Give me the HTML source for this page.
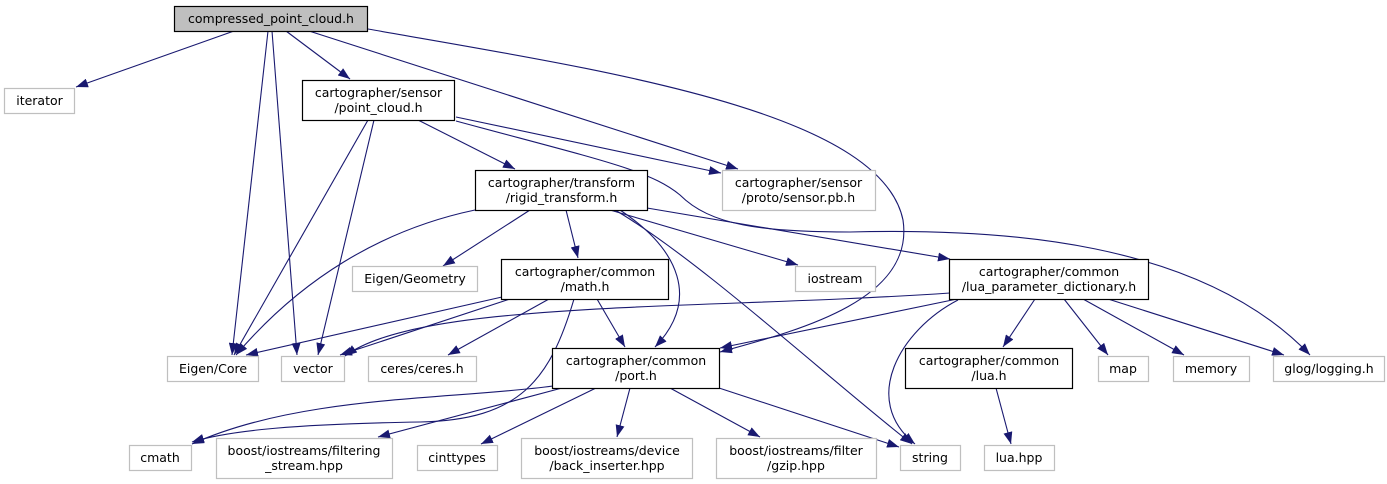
<!DOCTYPE html>
<html><head><meta charset="utf-8"><style>
html,body{margin:0;padding:0;background:#fff;}
svg{display:block;}
text{font-family:"DejaVu Sans","Liberation Sans",sans-serif;font-size:12.5px;fill:#000;}
</style></head><body>
<svg width="1387" height="484" viewBox="0 0 1387 484" xmlns="http://www.w3.org/2000/svg">
<defs><marker id="a" viewBox="0 0 12 9" refX="12" refY="4.5" markerWidth="12" markerHeight="9" markerUnits="userSpaceOnUse" orient="auto"><path d="M0,0 L12,4.5 L0,9 Z" fill="#191970"/></marker></defs>
<g fill="none" stroke="#191970" stroke-width="1.1" marker-end="url(#a)">
<path d="M234,31 L76,87"/>
<path d="M268,31 L232,355"/>
<path d="M272,31 L297,355"/>
<path d="M286,31 L350,79"/>
<path d="M309,31 L738,169"/>
<path d="M368,29 C600,70 880,110 903,220 C915,300 800,330 720,352"/>
<path d="M368,120 L234,355"/>
<path d="M374,120 L318,355"/>
<path d="M418,120 L515,169"/>
<path d="M456,117 L721,173"/>
<path d="M456,121 C600,160 650,170 680,195 C710,225 760,232 850,232 C1000,228 1200,240 1310,355"/>
<path d="M475,210 C380,230 300,280 236,355"/>
<path d="M530,210 L443,266"/>
<path d="M566,210 L578,258"/>
<path d="M620,210 C680,250 700,300 655,347"/>
<path d="M615,210 C700,260 830,380 912,444"/>
<path d="M610,210 L798,265"/>
<path d="M647,208 L950,259"/>
<path d="M502,297 L246,355"/>
<path d="M510,299 L340,355"/>
<path d="M549,299 L448,355"/>
<path d="M574,299 C550,380 520,420 420,422 C300,424 230,430 192,442"/>
<path d="M597,299 L625,347"/>
<path d="M950,293 C700,310 420,300 345,356"/>
<path d="M962,298 L720,348"/>
<path d="M958,300 C900,330 860,400 915,444"/>
<path d="M1035,299 L1003,347"/>
<path d="M1064,299 L1108,355"/>
<path d="M1083,299 L1184,355"/>
<path d="M1108,299 L1284,355"/>
<path d="M996,388 L1011,444"/>
<path d="M553,386 C450,400 300,395 192,444"/>
<path d="M562,388 L378,437"/>
<path d="M596,388 L481,444"/>
<path d="M630,388 L617,437"/>
<path d="M670,388 L760,437"/>
<path d="M719,388 L899,447"/>
</g>
<g stroke-width="1.2">
<rect x="174.5" y="6.5" width="193" height="25" fill="#bfbfbf" stroke="#000"/>
<g fill="#fff" stroke="#000">
<rect x="302.5" y="80.5" width="152" height="40"/>
<rect x="475.5" y="170.5" width="172" height="40"/>
<rect x="501.5" y="259.5" width="167" height="40"/>
<rect x="949.5" y="259.5" width="199" height="40"/>
<rect x="552.5" y="348.5" width="167" height="40"/>
<rect x="905.5" y="348.5" width="167" height="40"/>
</g>
<g fill="#fff" stroke="#bfbfbf">
<rect x="4.5" y="88.5" width="70" height="25"/>
<rect x="722.5" y="170.5" width="153" height="40"/>
<rect x="352.5" y="266.5" width="125" height="25"/>
<rect x="795.5" y="266.5" width="80" height="25"/>
<rect x="167.5" y="356.5" width="91" height="25"/>
<rect x="281.5" y="356.5" width="63" height="25"/>
<rect x="368.5" y="356.5" width="108" height="25"/>
<rect x="1098.5" y="356.5" width="50" height="25"/>
<rect x="1173.5" y="356.5" width="76" height="25"/>
<rect x="1273.5" y="356.5" width="111" height="25"/>
<rect x="129.5" y="445.5" width="62" height="25"/>
<rect x="216.5" y="438.5" width="176" height="40"/>
<rect x="417.5" y="445.5" width="80" height="25"/>
<rect x="521.5" y="438.5" width="171" height="40"/>
<rect x="716.5" y="438.5" width="160" height="40"/>
<rect x="900.5" y="445.5" width="60" height="25"/>
<rect x="984.5" y="445.5" width="70" height="25"/>
</g>
</g>
<g text-anchor="middle">
<text x="271" y="23">compressed_point_cloud.h</text>
<text x="39.5" y="105">iterator</text>
<text x="378.5" y="97">cartographer/sensor</text><text x="378.5" y="112">/point_cloud.h</text>
<text x="561.5" y="187">cartographer/transform</text><text x="561.5" y="202">/rigid_transform.h</text>
<text x="798.5" y="187">cartographer/sensor</text><text x="798.5" y="202">/proto/sensor.pb.h</text>
<text x="415" y="283">Eigen/Geometry</text>
<text x="585" y="276">cartographer/common</text><text x="585" y="291">/math.h</text>
<text x="835" y="283">iostream</text>
<text x="1049" y="276">cartographer/common</text><text x="1049" y="291">/lua_parameter_dictionary.h</text>
<text x="213" y="373">Eigen/Core</text>
<text x="313" y="373">vector</text>
<text x="422" y="373">ceres/ceres.h</text>
<text x="636" y="365">cartographer/common</text><text x="636" y="380">/port.h</text>
<text x="989" y="365">cartographer/common</text><text x="989" y="380">/lua.h</text>
<text x="1123" y="373">map</text>
<text x="1211" y="373">memory</text>
<text x="1329" y="373">glog/logging.h</text>
<text x="160" y="462">cmath</text>
<text x="304" y="455">boost/iostreams/filtering</text><text x="304" y="470">_stream.hpp</text>
<text x="457" y="462">cinttypes</text>
<text x="607" y="455">boost/iostreams/device</text><text x="607" y="470">/back_inserter.hpp</text>
<text x="796" y="455">boost/iostreams/filter</text><text x="796" y="470">/gzip.hpp</text>
<text x="930" y="462">string</text>
<text x="1019" y="462">lua.hpp</text>
</g>
</svg>
</body></html>
